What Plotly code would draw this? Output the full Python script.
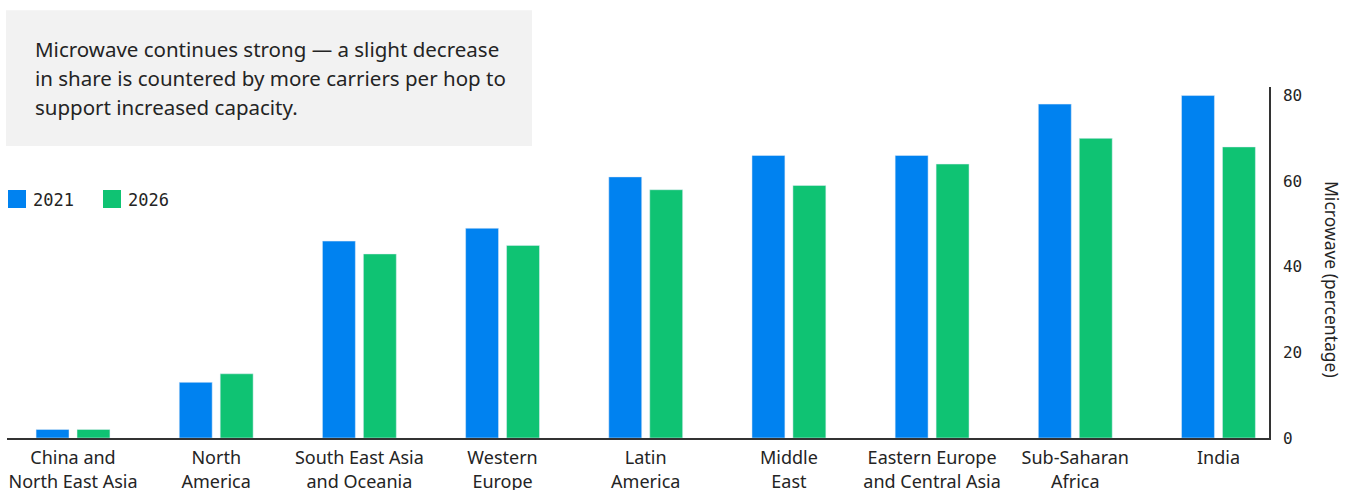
import plotly.graph_objects as go

# Regions and microwave share (percentage) for each year
regions = [
    "China and<br>North East Asia",
    "North<br>America",
    "South East Asia<br>and Oceania",
    "Western<br>Europe",
    "Latin<br>America",
    "Middle<br>East",
    "Eastern Europe<br>and Central Asia",
    "Sub-Saharan<br>Africa",
    "India",
]
share_2021 = [2, 13, 46, 49, 61, 66, 66, 78, 80]
share_2026 = [2, 15, 43, 45, 58, 59, 64, 70, 68]
y_ticks = [0, 20, 40, 60, 80]

BLUE = "#0082F0"
GREEN = "#0FC373"
TEXT = "#242424"
SANS = "Noto Sans, Lato, sans-serif"
MONO = "DejaVu Sans Mono, monospace"

xpos = list(range(len(regions)))
bar_w = 0.23

fig = go.Figure()
fig.add_trace(go.Bar(x=xpos, y=share_2021, name="2021", marker_color=BLUE,
                     width=bar_w, offset=-0.258, showlegend=False))
fig.add_trace(go.Bar(x=xpos, y=share_2026, name="2026", marker_color=GREEN,
                     width=bar_w, offset=0.028, showlegend=False))

fig.update_layout(
    width=1351, height=490,
    margin=dict(l=7, r=82, t=87, b=52, autoexpand=False),
    paper_bgcolor="white", plot_bgcolor="white",
    barmode="overlay",
    xaxis=dict(
        range=[-0.461, 8.353],
        tickmode="array", tickvals=xpos, ticktext=regions,
        showgrid=False, zeroline=False, automargin=False,
        showline=True, linecolor="#333333", linewidth=1.5,
        ticks="", ticklabelstandoff=3,
        tickfont=dict(family=SANS, size=18, color=TEXT),
    ),
    yaxis=dict(
        range=[0, 82], side="right",
        tickmode="array", tickvals=y_ticks,
        showgrid=False, zeroline=False, automargin=False,
        showline=True, linecolor="#333333", linewidth=1.5,
        ticks="", ticklabelstandoff=9,
        tickfont=dict(family=MONO, size=16, color=TEXT),
    ),
    font=dict(family=SANS, color=TEXT),
)

# Grey call-out box with the headline text
fig.add_shape(type="rect", xref="paper", yref="paper",
              x0=-0.0008, x1=0.416, y0=0.832, y1=1.219,
              fillcolor="#F2F2F2", line_width=0, layer="below")
headline = [
    "Microwave continues strong — a slight decrease",
    "in share is countered by more carriers per hop to",
    "support increased capacity.",
]
for i, line in enumerate(headline):
    fig.add_annotation(text=line, xref="paper", yref="paper",
                       x=(33 - 7) / 1262, y=(438 - (49 + 29 * i)) / 351,
                       xanchor="left", yanchor="middle", showarrow=False,
                       font=dict(family=SANS, size=20.5, color=TEXT))

# Legend: coloured squares with year labels
for sx, color, label in [(8, BLUE, "2021"), (103, GREEN, "2026")]:
    fig.add_shape(type="rect", xref="paper", yref="paper",
                  x0=(sx - 7) / 1262, x1=(sx + 18 - 7) / 1262,
                  y0=(438 - 208) / 351, y1=(438 - 190) / 351,
                  fillcolor=color, line_width=0)
    fig.add_annotation(text=label, xref="paper", yref="paper",
                       x=(sx + 23 - 7) / 1262, y=(438 - 200) / 351,
                       xanchor="left", yanchor="middle", showarrow=False,
                       font=dict(family=MONO, size=17, color=TEXT))

# Y-axis title reading top to bottom on the right
fig.add_annotation(text="Microwave (percentage)", xref="paper", yref="paper",
                   x=(1332 - 7) / 1262, y=(438 - 279) / 351,
                   xanchor="center", yanchor="middle", textangle=90,
                   showarrow=False, font=dict(family=SANS, size=17.5, color=TEXT))

fig.write_html("out.html")
